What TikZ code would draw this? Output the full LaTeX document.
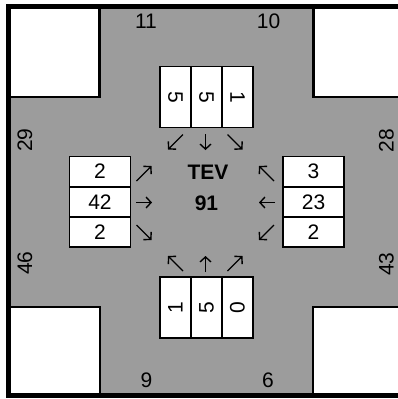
\documentclass[tikz,border=0pt]{standalone}
\usepackage{fontspec}
\setmainfont{Liberation Sans}
\usetikzlibrary{arrows.meta}
\definecolor{road}{RGB}{156,156,156}
\begin{document}
\begin{tikzpicture}[x=1pt,y=-1pt,
  lbl/.style={font=\fontsize{21}{24}\selectfont, inner sep=0pt},
  hcell/.style={lbl, draw=black, line width=1.6pt, fill=white, minimum width=61pt, minimum height=30.2pt},
  vcell/.style={lbl, draw=black, line width=1.6pt, fill=white, minimum width=61pt, minimum height=31pt},
  edge/.style={line width=2.6pt, line cap=rect},
  arr/.style={line width=1.4pt, -{Straight Barb[length=5pt,width=11pt]}}
]
\useasboundingbox (0,0) rectangle (398,399);
\clip (0,0) rectangle (398,399);
% road surface
\fill[road] (8,6) rectangle (398,396);
% corner blocks
\fill[white] (8,6) rectangle (99.5,97);
\fill[white] (313.5,6) rectangle (398,97);
\fill[white] (8,307) rectangle (100,396);
\fill[white] (313,307) rectangle (398,396);
\draw[edge] (99.5,6) -- (99.5,97) -- (8,97);
\draw[edge] (313.5,6) -- (313.5,97) -- (400,97);
\draw[edge] (8,307) -- (100,307) -- (100,396);
\draw[edge] (400,307) -- (313,307) -- (313,396);
% frame
\draw[line width=5pt] (410,6.5) -- (8.5,6.5) -- (8.5,395.8) -- (410,395.8);
% approach counts
\node[lbl] (n1) at (146,21) {11};
\node[lbl] (n2) at (268.5,21) {10};
\node[lbl] (s1) at (146.5,380) {9};
\node[lbl] (s2) at (268,380) {6};
\node[lbl, rotate=90] (w1) at (25,140) {29};
\node[lbl, rotate=90] (w2) at (25,263) {46};
\node[lbl, rotate=90] (e1) at (386.5,140.5) {28};
\node[lbl, rotate=90] (e2) at (386.5,264) {43};
% top box
\node[vcell, rotate=-90] (t1) at (175.5,97) {5};
\node[vcell, rotate=-90] (t2) at (206.5,97) {5};
\node[vcell, rotate=-90] (t3) at (237.5,97) {1};
% bottom box
\node[vcell, rotate=90] (b1) at (175.5,307.3) {1};
\node[vcell, rotate=90] (b2) at (206.5,307.3) {5};
\node[vcell, rotate=90] (b3) at (237.5,307.3) {0};
% left box
\node[hcell] (l1) at (100,171.6) {2};
\node[hcell] (l2) at (100,201.8) {42};
\node[hcell] (l3) at (100,232) {2};
% right box
\node[hcell] (r1) at (313.5,171.6) {3};
\node[hcell] (r2) at (313.5,201.8) {23};
\node[hcell] (r3) at (313.5,232) {2};
% centre
\node[lbl, font=\fontsize{21}{24}\selectfont\bfseries] (tev) at (208,172.5) {TEV};
\node[lbl, font=\fontsize{21}{24}\selectfont\bfseries] (tot) at (206.5,203) {91};
% turning arrows, top approach
\draw[arr] (183,134.5) -- (168,149.5);
\draw[arr] (205.5,134) -- (205.5,150);
\draw[arr] (227.5,134.5) -- (242.5,149.5);
% bottom approach
\draw[arr] (183,271) -- (168,256);
\draw[arr] (205.5,272) -- (205.5,256);
\draw[arr] (227.5,271) -- (242.5,256);
% left approach
\draw[arr] (136.5,181) -- (151.5,166);
\draw[arr] (136,202.5) -- (152,202.5);
\draw[arr] (136.5,225) -- (151.5,240);
% right approach
\draw[arr] (274,181) -- (259,166);
\draw[arr] (275,202.5) -- (259,202.5);
\draw[arr] (274,225) -- (259,240);
\end{tikzpicture}
\end{document}
